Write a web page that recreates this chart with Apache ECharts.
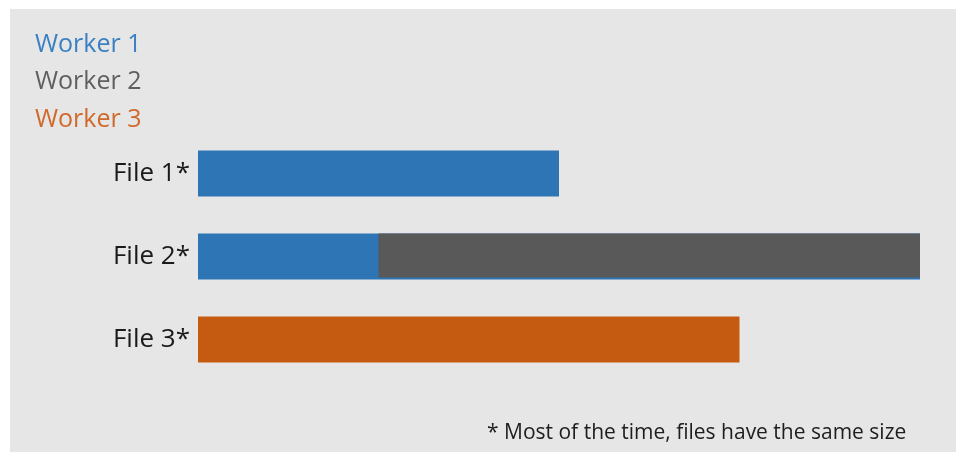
<!DOCTYPE html>
<html>
<head>
<meta charset="utf-8">
<script src="https://cdn.jsdelivr.net/npm/echarts@6/dist/echarts.min.js"></script>
<style>
  html, body { margin: 0; padding: 0; background: #ffffff; }
  #chart { width: 957px; height: 452px; }
</style>
</head>
<body>
<div id="chart"></div>
<script>
// Files being processed and the workers that handle them
const files = ['File 1*', 'File 2*', 'File 3*'];
const workers = ['Worker 1', 'Worker 2', 'Worker 3'];
const workerColors = ['#2e75b6', '#595959', '#c55a11'];
const legendColors = ['#3b80c2', '#5f5f5f', '#d0692a'];
const footnote = '* Most of the time, files have the same size';

// Work spans: which file, which worker, start and end (time units)
const spanFile   = [0, 1, 1, 2];
const spanWorker = [0, 0, 1, 2];
const spanStart  = [0, 0, 1, 0];
const spanEnd    = [2, 4, 4, 3];

const timeMax = 4;

const spanData = spanFile.map((f, i) => ({
  value: [f, spanStart[i], spanEnd[i], spanWorker[i]],
  itemStyle: { color: workerColors[spanWorker[i]] }
}));

function renderSpan(params, api) {
  const fileIdx = api.value(0);
  const p0 = api.coord([api.value(1), fileIdx]);
  const p1 = api.coord([api.value(2), fileIdx]);
  const band = api.size([0, 1])[1];
  const h = band * 0.555;
  // a later worker's span sits on top, leaving the earlier worker's edge visible below
  const inset = api.value(3) === 1 && api.value(1) > 0 ? 2 : 0;
  return {
    type: 'rect',
    shape: { x: p0[0], y: p0[1] - h / 2, width: p1[0] - p0[0], height: h - inset },
    style: api.style()
  };
}

const chart = echarts.init(document.getElementById('chart'), null, { renderer: 'canvas' });

const legendTexts = workers.map((w, i) => ({
  type: 'text',
  left: 35,
  top: 32 + i * 37.5,
  style: {
    text: w,
    fill: legendColors[i],
    font: '25px "Open Sans", "Noto Sans", sans-serif'
  }
}));

chart.setOption({
  backgroundColor: '#ffffff',
  animation: false,
  textStyle: { fontFamily: '"Open Sans", "Noto Sans", sans-serif' },
  graphic: [
    {
      type: 'rect',
      z: -10,
      shape: { x: 10, y: 9, width: 946, height: 443 },
      style: { fill: '#e6e6e6' },
      silent: true
    },
    ...legendTexts,
    {
      type: 'text',
      left: 487,
      top: 423,
      style: {
        text: footnote,
        fill: '#1e1e1e',
        font: '21px "Open Sans", "Noto Sans", sans-serif'
      }
    }
  ],
  grid: { left: 198, right: 37, top: 132, height: 249, containLabel: false },
  xAxis: {
    type: 'value',
    min: 0,
    max: timeMax,
    show: false
  },
  yAxis: {
    type: 'category',
    data: files,
    inverse: true,
    axisLine: { show: false },
    axisTick: { show: false },
    splitLine: { show: false },
    axisLabel: {
      margin: 8,
      fontSize: 26,
      padding: [5, 0, 0, 0],
      color: '#1a1a1a',
      fontFamily: '"Open Sans", "Noto Sans", sans-serif'
    }
  },
  series: [{
    type: 'custom',
    renderItem: renderSpan,
    encode: { x: [1, 2], y: 0 },
    data: spanData
  }]
});
</script>
</body>
</html>
